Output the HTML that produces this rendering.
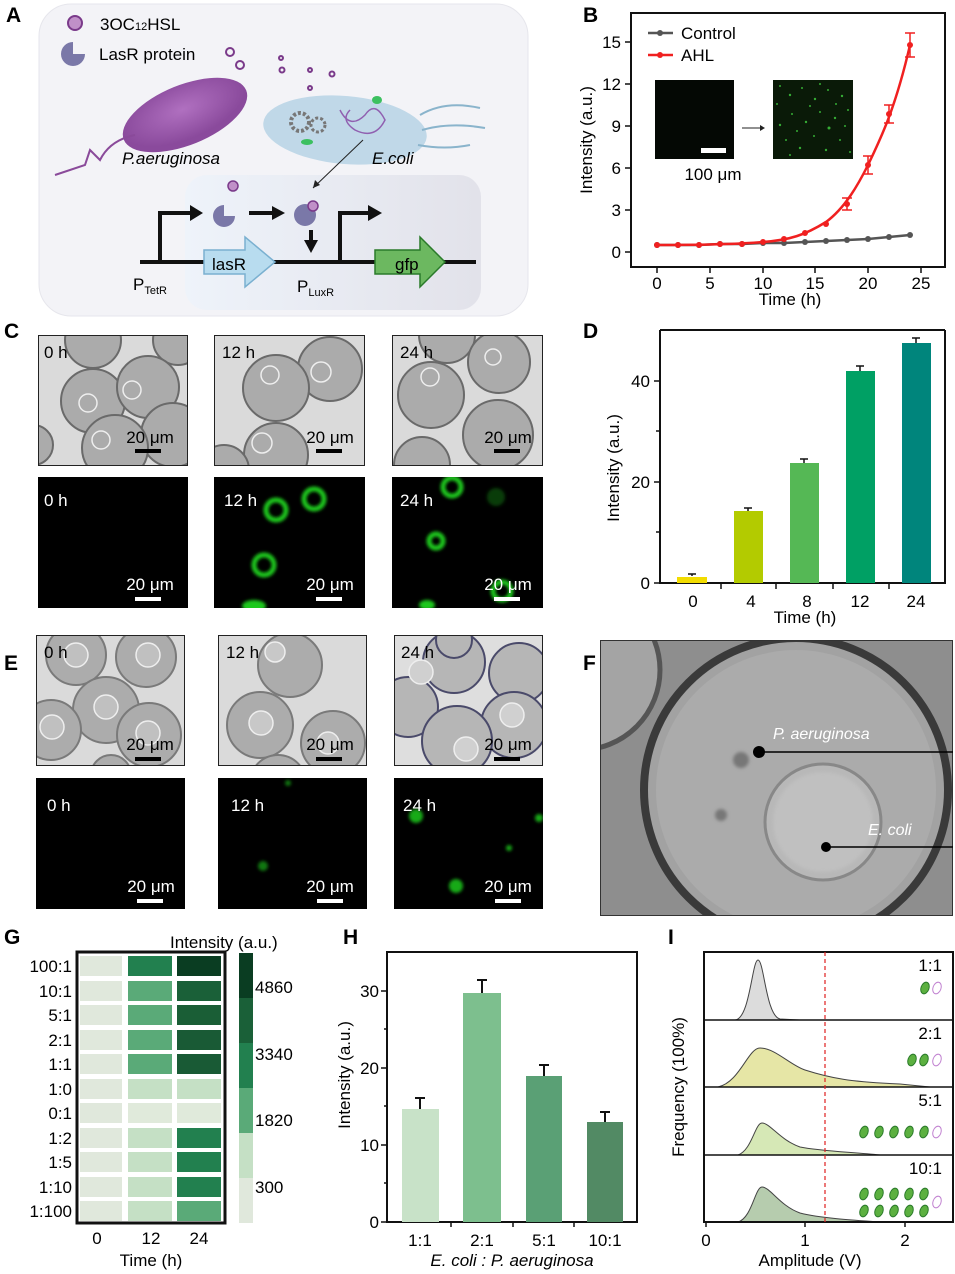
<!DOCTYPE html>
<html><head><meta charset="utf-8"><style>
html,body{margin:0;padding:0;background:#fff}
svg{display:block}
text{font-family:"Liberation Sans",Arial,sans-serif}
</style></head><body>
<svg width="955" height="1274" viewBox="0 0 955 1274" xmlns="http://www.w3.org/2000/svg">
<defs>
<filter id="bl" x="-50%" y="-50%" width="200%" height="200%"><feGaussianBlur stdDeviation="3"/></filter>
<filter id="bl2" x="-50%" y="-50%" width="200%" height="200%"><feGaussianBlur stdDeviation="1.5"/></filter>
<linearGradient id="ib" x1="0" x2="1"><stop offset="0" stop-color="#eef3fa"/><stop offset="1" stop-color="#e2e2ea"/></linearGradient>
<radialGradient id="pa" cx="0.5" cy="0.4"><stop offset="0" stop-color="#b070c0"/><stop offset="1" stop-color="#8a4a9c"/></radialGradient>
</defs>
<g font-weight="bold" font-size="21">
<text x="6" y="22">A</text><text x="583" y="22">B</text><text x="4" y="338">C</text><text x="583" y="338">D</text>
<text x="4" y="670">E</text><text x="583" y="670">F</text><text x="4" y="944">G</text><text x="343" y="944">H</text><text x="668" y="944">I</text>
</g>
<!-- Panel A -->
<rect x="39" y="4" width="489" height="312" rx="32" fill="#f3f3f7" stroke="#e6e6ec"/>
<rect x="185" y="175" width="296" height="135" rx="22" fill="url(#ib)"/>
<circle cx="75" cy="23" r="7" fill="#c090c8" stroke="#7a3a8a" stroke-width="2"/>
<text x="100" y="30" font-size="17">3OC<tspan font-size="11">12</tspan>HSL</text>
<path d="M73,54 L73,42 A12,12 0 1 0 85,54 Z" fill="#7a78a8"/>
<text x="99" y="60" font-size="17">LasR protein</text>
<g fill="none" stroke="#7a3a8a" stroke-width="2">
<circle cx="230" cy="52" r="4"/><circle cx="240" cy="65" r="4"/><circle cx="281" cy="58" r="2"/><circle cx="310" cy="70" r="2"/><circle cx="282" cy="70" r="2.5"/><circle cx="332" cy="74" r="2.5"/><circle cx="310" cy="88" r="2"/>
</g>
<ellipse cx="185" cy="115" rx="66" ry="30" transform="rotate(-22 185 115)" fill="url(#pa)"/>
<path d="M135,135 Q110,140 100,160 L90,150 L85,165 L55,175" fill="none" stroke="#8a4a9a" stroke-width="2"/>
<ellipse cx="345" cy="130" rx="82" ry="34" transform="rotate(5 345 130)" fill="#c0d8e8"/>
<path d="M420,115 Q445,100 480,108 M422,130 Q450,122 485,128 M418,145 Q445,150 470,145" fill="none" stroke="#8ab4cc" stroke-width="2"/>
<path d="M340,110 q10,20 25,5 q10,-15 20,5 q-10,20 -30,10 q-15,-10 -5,-20" fill="none" stroke="#9060b0" stroke-width="1.5"/>
<circle cx="300" cy="122" r="9" fill="none" stroke="#777" stroke-width="4" stroke-dasharray="3 2"/>
<circle cx="318" cy="125" r="7" fill="none" stroke="#777" stroke-width="3" stroke-dasharray="3 2"/>
<ellipse cx="377" cy="100" rx="5" ry="4" fill="#3cc060"/><ellipse cx="307" cy="142" rx="6" ry="3" fill="#3cc060"/>
<text x="122" y="164" font-size="17" font-style="italic">P.aeruginosa</text>
<text x="372" y="164" font-size="17" font-style="italic">E.coli</text>
<line x1="363" y1="140" x2="313" y2="188" stroke="#222" stroke-width="1"/>
<path d="M313,188 l2,-8 l5,5 z" fill="#222"/>
<line x1="140" y1="262" x2="476" y2="262" stroke="#111" stroke-width="4"/>
<path d="M160,262 V213 H193" fill="none" stroke="#111" stroke-width="4"/><path d="M190,205 L203,213 L190,221 Z" fill="#111"/>
<path d="M340,262 V213 H372" fill="none" stroke="#111" stroke-width="4"/><path d="M368,205 L382,213 L368,221 Z" fill="#111"/>
<path d="M249,213 H275" stroke="#111" stroke-width="4"/><path d="M272,206 L285,213 L272,220 Z" fill="#111"/>
<path d="M311,230 V243" stroke="#111" stroke-width="4"/><path d="M304,240 L311,253 L318,240 Z" fill="#111"/>
<path d="M204,250 H245 V237 L275,262 L245,287 V274 H204 Z" fill="#b8dcef" stroke="#7ab0d0" stroke-width="1.5"/>
<text x="212" y="270" font-size="17">lasR</text>
<path d="M375,250 H420 V237 L445,262 L420,287 V274 H375 Z" fill="#6cb860" stroke="#2a7a2a" stroke-width="1.5"/>
<text x="395" y="270" font-size="17">gfp</text>
<path d="M224,216 L224,205 A11,11 0 1 0 235,216 Z" fill="#7a78a8"/><circle cx="233" cy="186" r="5" fill="#c090c8" stroke="#7a3a8a" stroke-width="1.5"/>
<circle cx="305" cy="215" r="11" fill="#7a78a8"/><circle cx="313" cy="206" r="5" fill="#c090c8" stroke="#7a3a8a" stroke-width="1.5"/>
<text x="133" y="290" font-size="17">P<tspan font-size="11" dy="4">TetR</tspan></text>
<text x="297" y="292" font-size="17">P<tspan font-size="11" dy="4">LuxR</tspan></text>
<!-- Panel B -->
<rect x="631" y="13" width="314" height="254" fill="none" stroke="#111" stroke-width="2"/>
<g stroke="#111" stroke-width="1.5">
<line x1="657" y1="267" x2="657" y2="273"/><line x1="710" y1="267" x2="710" y2="273"/><line x1="763" y1="267" x2="763" y2="273"/><line x1="815" y1="267" x2="815" y2="273"/><line x1="868" y1="267" x2="868" y2="273"/><line x1="921" y1="267" x2="921" y2="273"/>
<line x1="625" y1="252" x2="631" y2="252"/><line x1="625" y1="210" x2="631" y2="210"/><line x1="625" y1="168" x2="631" y2="168"/><line x1="625" y1="126" x2="631" y2="126"/><line x1="625" y1="84" x2="631" y2="84"/><line x1="625" y1="42" x2="631" y2="42"/>
</g>
<g font-size="17" text-anchor="middle">
<text x="657" y="289">0</text><text x="710" y="289">5</text><text x="763" y="289">10</text><text x="815" y="289">15</text><text x="868" y="289">20</text><text x="921" y="289">25</text>
<text x="790" y="305">Time (h)</text>
</g>
<g font-size="17" text-anchor="end">
<text x="621" y="258">0</text><text x="621" y="216">3</text><text x="621" y="174">6</text><text x="621" y="132">9</text><text x="621" y="90">12</text><text x="621" y="48">15</text>
</g>
<text transform="translate(592,140) rotate(-90)" font-size="17" text-anchor="middle">Intensity (a.u.)</text>
<rect x="655" y="80" width="79" height="79" fill="#040804"/>
<rect x="701" y="148" width="25" height="5" fill="#fff"/>
<text x="713" y="180" font-size="17" text-anchor="middle">100 μm</text>
<line x1="742" y1="128" x2="760" y2="128" stroke="#222"/><path d="M760,125 L765,128 L760,131Z" fill="#222"/>
<rect x="773" y="80" width="80" height="79" fill="#0a1a08"/>
<g fill="#40d040" opacity="0.8">
<circle cx="780" cy="86" r="1"/><circle cx="790" cy="95" r="1.2"/><circle cx="802" cy="88" r="1"/><circle cx="815" cy="99" r="1.2"/><circle cx="828" cy="90" r="1"/><circle cx="842" cy="96" r="1.2"/><circle cx="848" cy="110" r="1"/><circle cx="835" cy="118" r="1.2"/><circle cx="820" cy="112" r="1"/><circle cx="806" cy="122" r="1.2"/><circle cx="792" cy="114" r="1"/><circle cx="780" cy="125" r="1.2"/><circle cx="786" cy="140" r="1"/><circle cx="800" cy="148" r="1.2"/><circle cx="814" cy="136" r="1"/><circle cx="826" cy="150" r="1.2"/><circle cx="840" cy="140" r="1"/><circle cx="850" cy="152" r="1"/><circle cx="810" cy="106" r="1"/><circle cx="797" cy="131" r="1"/><circle cx="829" cy="128" r="1.5"/><circle cx="845" cy="126" r="1"/><circle cx="777" cy="104" r="1"/><circle cx="820" cy="84" r="1"/><circle cx="790" cy="155" r="1"/><circle cx="836" cy="104" r="1"/>
</g>
<polyline points="657,245 678,245 699,245 720,244 742,244 763,243 784,243 805,242 826,241 847,240 868,239 889,237 910,235" fill="none" stroke="#555" stroke-width="2.5"/>
<g fill="#555"><circle cx="657" cy="245" r="3"/><circle cx="678" cy="245" r="3"/><circle cx="699" cy="245" r="3"/><circle cx="720" cy="244" r="3"/><circle cx="742" cy="244" r="3"/><circle cx="763" cy="243" r="3"/><circle cx="784" cy="243" r="3"/><circle cx="805" cy="242" r="3"/><circle cx="826" cy="241" r="3"/><circle cx="847" cy="240" r="3"/><circle cx="868" cy="239" r="3"/><circle cx="889" cy="237" r="3"/><circle cx="910" cy="235" r="3"/></g>
<path d="M657,245 C700,245 740,244 763,242 C790,240 805,235 826,222 C845,208 858,185 868,165 C880,140 895,110 910,45" fill="none" stroke="#f02020" stroke-width="2.5"/>
<g fill="#f02020"><circle cx="657" cy="245" r="3"/><circle cx="678" cy="245" r="3"/><circle cx="699" cy="245" r="3"/><circle cx="720" cy="244" r="3"/><circle cx="742" cy="244" r="3"/><circle cx="763" cy="242" r="3"/><circle cx="784" cy="239" r="3"/><circle cx="805" cy="233" r="3"/><circle cx="826" cy="224" r="3"/><circle cx="847" cy="204" r="3"/><circle cx="868" cy="165" r="3"/><circle cx="889" cy="114" r="3"/><circle cx="910" cy="45" r="3"/></g>
<g stroke="#f02020" stroke-width="1.5"><path d="M910,33 V57 M905,33 H915 M905,57 H915 M889,105 V123 M884,105 H894 M884,123 H894 M868,156 V174 M863,156 H873 M863,174 H873 M847,198 V210 M842,198 H852 M842,210 H852"/></g>
<line x1="648" y1="33" x2="673" y2="33" stroke="#555" stroke-width="2.5"/><circle cx="660" cy="33" r="3" fill="#555"/>
<text x="681" y="39" font-size="17">Control</text>
<line x1="648" y1="55" x2="673" y2="55" stroke="#f02020" stroke-width="2.5"/><circle cx="660" cy="55" r="3" fill="#f02020"/>
<text x="681" y="61" font-size="17">AHL</text>
<!-- Microscopy C & E -->
<svg x="38" y="335" width="150" height="131"><rect width="150" height="131" fill="#dadada"/>
<g fill="#ababab" stroke="#6a6a6a" stroke-width="2"><circle cx="55" cy="5" r="28"/><circle cx="140" cy="5" r="25"/><circle cx="55" cy="66" r="32"/><circle cx="110" cy="52" r="31"/><circle cx="135" cy="100" r="32"/><circle cx="77" cy="113" r="33"/><circle cx="-5" cy="110" r="20"/></g>
<g fill="none" stroke="#eee" stroke-width="1.5"><circle cx="50" cy="68" r="9"/><circle cx="94" cy="55" r="9"/><circle cx="63" cy="105" r="9"/></g>
<rect width="150" height="131" fill="none" stroke="#222" stroke-width="2"/></svg>
<svg x="214" y="335" width="151" height="131"><rect width="151" height="131" fill="#dadada"/>
<g fill="#ababab" stroke="#6a6a6a" stroke-width="2"><circle cx="116" cy="34" r="32"/><circle cx="62" cy="53" r="33"/><circle cx="62" cy="120" r="32"/><circle cx="10" cy="135" r="25"/></g>
<g fill="none" stroke="#eee" stroke-width="1.5"><circle cx="56" cy="40" r="9"/><circle cx="107" cy="37" r="10"/><circle cx="48" cy="108" r="10"/></g>
<rect width="151" height="131" fill="none" stroke="#222" stroke-width="2"/></svg>
<svg x="392" y="335" width="151" height="131"><rect width="151" height="131" fill="#dadada"/>
<g fill="#ababab" stroke="#6a6a6a" stroke-width="2"><circle cx="55" cy="0" r="28"/><circle cx="107" cy="27" r="31"/><circle cx="39" cy="60" r="33"/><circle cx="106" cy="100" r="35"/><circle cx="30" cy="130" r="28"/></g>
<g fill="none" stroke="#eee" stroke-width="1.5"><circle cx="101" cy="22" r="8"/><circle cx="38" cy="42" r="9"/></g>
<rect width="151" height="131" fill="none" stroke="#222" stroke-width="2"/></svg>
<svg x="38" y="477" width="150" height="131"><rect width="150" height="131" fill="#000"/></svg>
<svg x="214" y="477" width="151" height="131"><rect width="151" height="131" fill="#000"/>
<g fill="none" stroke="#1ec81e" stroke-width="5" filter="url(#bl2)"><circle cx="62" cy="33" r="10"/><circle cx="100" cy="22" r="10"/><circle cx="50" cy="88" r="10"/></g>
<g fill="#1ec81e" filter="url(#bl2)"><ellipse cx="40" cy="129" rx="12" ry="6"/></g></svg>
<svg x="392" y="477" width="151" height="131"><rect width="151" height="131" fill="#000"/>
<g fill="none" stroke="#1ec81e" stroke-width="5" filter="url(#bl2)"><circle cx="60" cy="10" r="9"/><circle cx="44" cy="64" r="7"/><circle cx="110" cy="114" r="9"/></g>
<g fill="#1ec81e" filter="url(#bl2)"><ellipse cx="35" cy="128" rx="8" ry="5"/><circle cx="104" cy="20" r="9" opacity="0.3"/></g></svg>
<svg x="36" y="635" width="149" height="131"><rect width="149" height="131" fill="#dadada"/>
<g fill="#acacac" stroke="#7a7a7a" stroke-width="2"><circle cx="40" cy="20" r="30"/><circle cx="110" cy="22" r="30"/><circle cx="70" cy="75" r="33"/><circle cx="15" cy="95" r="30"/><circle cx="113" cy="100" r="32"/><circle cx="75" cy="140" r="20"/></g>
<g fill="#c0c0c0" stroke="#eee" stroke-width="1.5"><circle cx="40" cy="20" r="12"/><circle cx="112" cy="20" r="12"/><circle cx="70" cy="72" r="12"/><circle cx="16" cy="92" r="12"/><circle cx="112" cy="98" r="12"/></g>
<rect width="149" height="131" fill="none" stroke="#222" stroke-width="2"/></svg>
<svg x="218" y="635" width="149" height="131"><rect width="149" height="131" fill="#dadada"/>
<g fill="#acacac" stroke="#7a7a7a" stroke-width="2"><circle cx="72" cy="30" r="32"/><circle cx="42" cy="90" r="33"/><circle cx="115" cy="108" r="32"/><circle cx="60" cy="148" r="28"/></g>
<g fill="#c8c8c8" stroke="#eee" stroke-width="1.5"><circle cx="57" cy="17" r="10"/><circle cx="43" cy="88" r="12"/><circle cx="110" cy="108" r="11"/></g>
<rect width="149" height="131" fill="none" stroke="#222" stroke-width="2"/></svg>
<svg x="394" y="635" width="149" height="131"><rect width="149" height="131" fill="#dedede"/>
<g fill="#b6b6b6" stroke="#4a4a6a" stroke-width="2"><circle cx="60" cy="27" r="31"/><circle cx="125" cy="38" r="30"/><circle cx="14" cy="72" r="30"/><circle cx="120" cy="90" r="33"/><circle cx="63" cy="106" r="35"/><circle cx="60" cy="5" r="18"/></g>
<g fill="#d0d0d0" stroke="#eee" stroke-width="1.5"><circle cx="27" cy="37" r="12"/><circle cx="72" cy="114" r="12"/><circle cx="118" cy="80" r="12"/></g>
<rect width="149" height="131" fill="none" stroke="#222" stroke-width="2"/></svg>
<svg x="36" y="778" width="149" height="131"><rect width="149" height="131" fill="#000"/></svg>
<svg x="218" y="778" width="149" height="131"><rect width="149" height="131" fill="#000"/>
<g fill="#1ec81e" filter="url(#bl2)" opacity="0.6"><circle cx="45" cy="88" r="5"/><circle cx="70" cy="5" r="3"/></g></svg>
<svg x="394" y="778" width="149" height="131"><rect width="149" height="131" fill="#000"/>
<g fill="#1ec81e" filter="url(#bl2)" opacity="0.85"><circle cx="22" cy="38" r="7"/><circle cx="62" cy="108" r="7"/><circle cx="115" cy="70" r="3"/><circle cx="145" cy="40" r="4"/></g></svg>
<g font-size="17" fill="#000">
<text x="44" y="358">0 h</text><text x="222" y="358">12 h</text><text x="400" y="358">24 h</text>
<text x="44" y="658">0 h</text><text x="226" y="658">12 h</text><text x="401" y="658">24 h</text>
</g>
<g font-size="17" fill="#fff">
<text x="44" y="506">0 h</text><text x="224" y="506">12 h</text><text x="400" y="506">24 h</text>
<text x="47" y="811">0 h</text><text x="231" y="811">12 h</text><text x="403" y="811">24 h</text>
</g>
<g font-size="17" fill="#000" text-anchor="middle">
<text x="150" y="443">20 μm</text><text x="330" y="443">20 μm</text><text x="508" y="443">20 μm</text>
<text x="150" y="750">20 μm</text><text x="330" y="750">20 μm</text><text x="508" y="750">20 μm</text>
</g>
<g fill="#000"><rect x="135" y="449" width="26" height="4"/><rect x="316" y="449" width="26" height="4"/><rect x="494" y="449" width="26" height="4"/>
<rect x="135" y="757" width="26" height="4"/><rect x="316" y="757" width="26" height="4"/><rect x="494" y="757" width="26" height="4"/></g>
<g font-size="17" fill="#fff" text-anchor="middle">
<text x="150" y="590">20 μm</text><text x="330" y="590">20 μm</text><text x="508" y="590">20 μm</text>
<text x="151" y="892">20 μm</text><text x="330" y="892">20 μm</text><text x="508" y="892">20 μm</text>
</g>
<g fill="#fff"><rect x="135" y="597" width="26" height="4"/><rect x="316" y="597" width="26" height="4"/><rect x="494" y="597" width="26" height="4"/>
<rect x="137" y="899" width="26" height="4"/><rect x="317" y="899" width="26" height="4"/><rect x="495" y="899" width="26" height="4"/></g>
<!-- Panel D -->
<path d="M660,330 V583 H945 V330" fill="none" stroke="#111" stroke-width="2"/>
<line x1="660" y1="330" x2="945" y2="330" stroke="#111" stroke-width="2"/>
<g stroke="#111" stroke-width="1.5"><line x1="654" y1="583" x2="660" y2="583"/><line x1="654" y1="482" x2="660" y2="482"/><line x1="654" y1="381" x2="660" y2="381"/><line x1="656" y1="532" x2="660" y2="532"/><line x1="656" y1="431" x2="660" y2="431"/>
<line x1="721" y1="583" x2="721" y2="589"/><line x1="776" y1="583" x2="776" y2="589"/><line x1="833" y1="583" x2="833" y2="589"/><line x1="889" y1="583" x2="889" y2="589"/></g>
<rect x="677" y="577" width="30" height="6" fill="#f2dc00"/>
<rect x="734" y="511" width="29" height="72" fill="#b3cb00"/>
<rect x="790" y="463" width="29" height="120" fill="#55b855"/>
<rect x="846" y="371" width="29" height="212" fill="#00a064"/>
<rect x="902" y="343" width="29" height="240" fill="#00857c"/>
<g stroke="#111" stroke-width="1.5"><path d="M692,576 V574 M688,574 H696 M748,511 V508 M744,508 H752 M804,463 V459 M800,459 H808 M860,371 V366 M856,366 H864 M916,343 V338 M912,338 H920"/></g>
<g font-size="17" text-anchor="end"><text x="650" y="589">0</text><text x="650" y="488">20</text><text x="650" y="387">40</text></g>
<g font-size="17" text-anchor="middle"><text x="693" y="607">0</text><text x="751" y="607">4</text><text x="807" y="607">8</text><text x="860" y="607">12</text><text x="916" y="607">24</text>
<text x="805" y="623">Time (h)</text></g>
<text transform="translate(619,468) rotate(-90)" font-size="17" text-anchor="middle">Intensity (a.u.)</text>
<!-- Panel F -->
<svg x="600" y="640" width="353" height="276"><rect width="353" height="276" fill="#8e8e8e"/>
<circle cx="-20" cy="30" r="80" fill="#a4a4a4" stroke="#555" stroke-width="5"/>
<circle cx="196" cy="150" r="152" fill="#a2a2a2" stroke="#3a3a3a" stroke-width="8"/>
<circle cx="196" cy="150" r="140" fill="#ababab"/>
<circle cx="223" cy="182" r="58" fill="#b8b8b8" stroke="#888" stroke-width="3"/>
<circle cx="223" cy="182" r="50" fill="#c0c0c0" filter="url(#bl2)"/>
<circle cx="141" cy="120" r="8" fill="#777" filter="url(#bl2)"/><circle cx="121" cy="175" r="6" fill="#777" filter="url(#bl2)"/>
<rect width="353" height="276" fill="none" stroke="#333" stroke-width="2"/></svg>
<circle cx="759" cy="752" r="6" fill="#000"/><line x1="759" y1="752" x2="953" y2="752" stroke="#000" stroke-width="1.5"/>
<circle cx="826" cy="847" r="5" fill="#000"/><line x1="826" y1="847" x2="953" y2="847" stroke="#000" stroke-width="1.5"/>
<text x="773" y="739" font-size="16" font-style="italic" fill="#fff">P. aeruginosa</text>
<text x="868" y="835" font-size="16" font-style="italic" fill="#fff">E. coli</text>
<!-- Panel G -->
<rect x="77" y="952" width="148" height="271" fill="#fff" stroke="#111" stroke-width="3"/>
<g fill="#e0e8dc"><rect x="80" y="956" width="42" height="20"/><rect x="80" y="981" width="42" height="20"/><rect x="80" y="1005" width="42" height="20"/><rect x="80" y="1030" width="42" height="20"/><rect x="80" y="1054" width="42" height="20"/><rect x="80" y="1079" width="42" height="20"/><rect x="80" y="1103" width="42" height="20"/><rect x="80" y="1128" width="42" height="20"/><rect x="80" y="1152" width="42" height="20"/><rect x="80" y="1177" width="42" height="20"/><rect x="80" y="1201" width="42" height="20"/></g>
<rect x="128" y="956" width="44" height="20" fill="#22804f"/><rect x="177" y="956" width="44" height="20" fill="#0a3d22"/>
<rect x="128" y="981" width="44" height="20" fill="#5aaa78"/><rect x="177" y="981" width="44" height="20" fill="#1a6038"/>
<rect x="128" y="1005" width="44" height="20" fill="#5aaa78"/><rect x="177" y="1005" width="44" height="20" fill="#1a5e36"/>
<rect x="128" y="1030" width="44" height="20" fill="#5aaa78"/><rect x="177" y="1030" width="44" height="20" fill="#195a35"/>
<rect x="128" y="1054" width="44" height="20" fill="#5aaa78"/><rect x="177" y="1054" width="44" height="20" fill="#195a35"/>
<rect x="128" y="1079" width="44" height="20" fill="#c5e0c5"/><rect x="177" y="1079" width="44" height="20" fill="#c5e0c5"/>
<rect x="128" y="1103" width="44" height="20" fill="#e0eadb"/><rect x="177" y="1103" width="44" height="20" fill="#e0eadb"/>
<rect x="128" y="1128" width="44" height="20" fill="#c5e0c5"/><rect x="177" y="1128" width="44" height="20" fill="#22804f"/>
<rect x="128" y="1152" width="44" height="20" fill="#c5e0c5"/><rect x="177" y="1152" width="44" height="20" fill="#22804f"/>
<rect x="128" y="1177" width="44" height="20" fill="#c5e0c5"/><rect x="177" y="1177" width="44" height="20" fill="#22804f"/>
<rect x="128" y="1201" width="44" height="20" fill="#c5e0c5"/><rect x="177" y="1201" width="44" height="20" fill="#5aaa78"/>
<g font-size="17" text-anchor="end">
<text x="72" y="972">100:1</text><text x="72" y="997">10:1</text><text x="72" y="1021">5:1</text><text x="72" y="1046">2:1</text><text x="72" y="1070">1:1</text><text x="72" y="1095">1:0</text><text x="72" y="1119">0:1</text><text x="72" y="1144">1:2</text><text x="72" y="1168">1:5</text><text x="72" y="1193">1:10</text><text x="72" y="1217">1:100</text>
</g>
<g font-size="17" text-anchor="middle"><text x="97" y="1244">0</text><text x="151" y="1244">12</text><text x="199" y="1244">24</text><text x="151" y="1266">Time (h)</text></g>
<rect x="239" y="953" width="14" height="45" fill="#0a3d22"/><rect x="239" y="998" width="14" height="45" fill="#1a6038"/><rect x="239" y="1043" width="14" height="45" fill="#22804f"/><rect x="239" y="1088" width="14" height="45" fill="#5aaa78"/><rect x="239" y="1133" width="14" height="45" fill="#c5e0c5"/><rect x="239" y="1178" width="14" height="45" fill="#e0e8dc"/>
<g font-size="17"><text x="255" y="993">4860</text><text x="255" y="1060">3340</text><text x="255" y="1126">1820</text><text x="255" y="1193">300</text></g>
<text x="170" y="948" font-size="17">Intensity (a.u.)</text>
<!-- Panel H -->
<rect x="387" y="952" width="250" height="270" fill="none" stroke="#111" stroke-width="2"/>
<g stroke="#111" stroke-width="1.5"><line x1="381" y1="1222" x2="387" y2="1222"/><line x1="381" y1="1145" x2="387" y2="1145"/><line x1="381" y1="1068" x2="387" y2="1068"/><line x1="381" y1="991" x2="387" y2="991"/>
<line x1="384" y1="1183" x2="387" y2="1183"/><line x1="384" y1="1106" x2="387" y2="1106"/><line x1="384" y1="1029" x2="387" y2="1029"/>
<line x1="451" y1="1222" x2="451" y2="1227"/><line x1="513" y1="1222" x2="513" y2="1227"/><line x1="574" y1="1222" x2="574" y2="1227"/></g>
<rect x="402" y="1109" width="37" height="113" fill="#c8e2c8"/>
<rect x="463" y="993" width="38" height="229" fill="#7dbf8e"/>
<rect x="526" y="1076" width="36" height="146" fill="#5aa075"/>
<rect x="587" y="1122" width="36" height="100" fill="#528a64"/>
<g stroke="#111" stroke-width="2"><path d="M420,1109 V1098 M415,1098 H425 M482,993 V980 M477,980 H487 M544,1076 V1065 M539,1065 H549 M605,1122 V1112 M600,1112 H610"/></g>
<g font-size="17" text-anchor="end"><text x="379" y="1228">0</text><text x="379" y="1151">10</text><text x="379" y="1074">20</text><text x="379" y="997">30</text></g>
<g font-size="17" text-anchor="middle"><text x="420" y="1246">1:1</text><text x="482" y="1246">2:1</text><text x="544" y="1246">5:1</text><text x="605" y="1246">10:1</text>
<text x="512" y="1266" font-style="italic">E. coli : P. aeruginosa</text></g>
<text transform="translate(350,1075) rotate(-90)" font-size="17" text-anchor="middle">Intensity (a.u.)</text>
<!-- Panel I -->
<path d="M735,1020 C750,1019 752,960 758,960 C764,960 766,1016 780,1019 L800,1020 Z" fill="#dcdcdc" stroke="#444"/>
<path d="M718,1087 C740,1082 748,1048 760,1048 C775,1048 790,1065 805,1070 C830,1078 850,1082 900,1084 L930,1087 Z" fill="#e6e6a6" stroke="#444"/>
<path d="M738,1155 C752,1150 755,1123 762,1123 C770,1123 780,1140 800,1147 C820,1151 850,1152 880,1155 Z" fill="#d6e8b6" stroke="#444"/>
<path d="M738,1222 C752,1218 755,1187 762,1187 C770,1187 780,1206 800,1213 C820,1218 850,1220 880,1222 Z" fill="#b6ccae" stroke="#444"/>
<rect x="704" y="952" width="249" height="270" fill="none" stroke="#111" stroke-width="2"/>
<g stroke="#111" stroke-width="1.5"><line x1="704" y1="1020" x2="953" y2="1020"/><line x1="704" y1="1087" x2="953" y2="1087"/><line x1="704" y1="1155" x2="953" y2="1155"/>
<line x1="706" y1="1222" x2="706" y2="1227"/><line x1="805" y1="1222" x2="805" y2="1227"/><line x1="905" y1="1222" x2="905" y2="1227"/></g>
<line x1="825" y1="952" x2="825" y2="1222" stroke="#e02020" stroke-width="1.2" stroke-dasharray="4 3"/>
<g font-size="17" text-anchor="end"><text x="942" y="971">1:1</text><text x="942" y="1039">2:1</text><text x="942" y="1106">5:1</text><text x="942" y="1174">10:1</text></g>
<g fill="#5cb040" stroke="#2a7a2a"><ellipse cx="925" cy="988" rx="4" ry="6" transform="rotate(20 925 988)"/>
<ellipse cx="912" cy="1060" rx="4" ry="6" transform="rotate(20 912 1060)"/><ellipse cx="924" cy="1060" rx="4" ry="6" transform="rotate(20 924 1060)"/>
<ellipse cx="864" cy="1132" rx="4" ry="6" transform="rotate(20 864 1132)"/><ellipse cx="879" cy="1132" rx="4" ry="6" transform="rotate(20 879 1132)"/><ellipse cx="894" cy="1132" rx="4" ry="6" transform="rotate(20 894 1132)"/><ellipse cx="909" cy="1132" rx="4" ry="6" transform="rotate(20 909 1132)"/><ellipse cx="924" cy="1132" rx="4" ry="6" transform="rotate(20 924 1132)"/>
<ellipse cx="864" cy="1194" rx="4" ry="6" transform="rotate(20 864 1194)"/><ellipse cx="879" cy="1194" rx="4" ry="6" transform="rotate(20 879 1194)"/><ellipse cx="894" cy="1194" rx="4" ry="6" transform="rotate(20 894 1194)"/><ellipse cx="909" cy="1194" rx="4" ry="6" transform="rotate(20 909 1194)"/><ellipse cx="924" cy="1194" rx="4" ry="6" transform="rotate(20 924 1194)"/>
<ellipse cx="864" cy="1211" rx="4" ry="6" transform="rotate(20 864 1211)"/><ellipse cx="879" cy="1211" rx="4" ry="6" transform="rotate(20 879 1211)"/><ellipse cx="894" cy="1211" rx="4" ry="6" transform="rotate(20 894 1211)"/><ellipse cx="909" cy="1211" rx="4" ry="6" transform="rotate(20 909 1211)"/><ellipse cx="924" cy="1211" rx="4" ry="6" transform="rotate(20 924 1211)"/></g>
<g fill="#fff" stroke="#c080d0"><ellipse cx="937" cy="988" rx="4" ry="6" transform="rotate(20 937 988)"/><ellipse cx="937" cy="1060" rx="4" ry="6" transform="rotate(20 937 1060)"/><ellipse cx="937" cy="1132" rx="4" ry="6" transform="rotate(20 937 1132)"/><ellipse cx="937" cy="1202" rx="4" ry="6" transform="rotate(20 937 1202)"/></g>
<g font-size="17" text-anchor="middle"><text x="706" y="1246">0</text><text x="805" y="1246">1</text><text x="905" y="1246">2</text><text x="810" y="1266">Amplitude (V)</text></g>
<text transform="translate(684,1087) rotate(-90)" font-size="17" text-anchor="middle">Frequency (100%)</text>
</svg>
</body></html>
